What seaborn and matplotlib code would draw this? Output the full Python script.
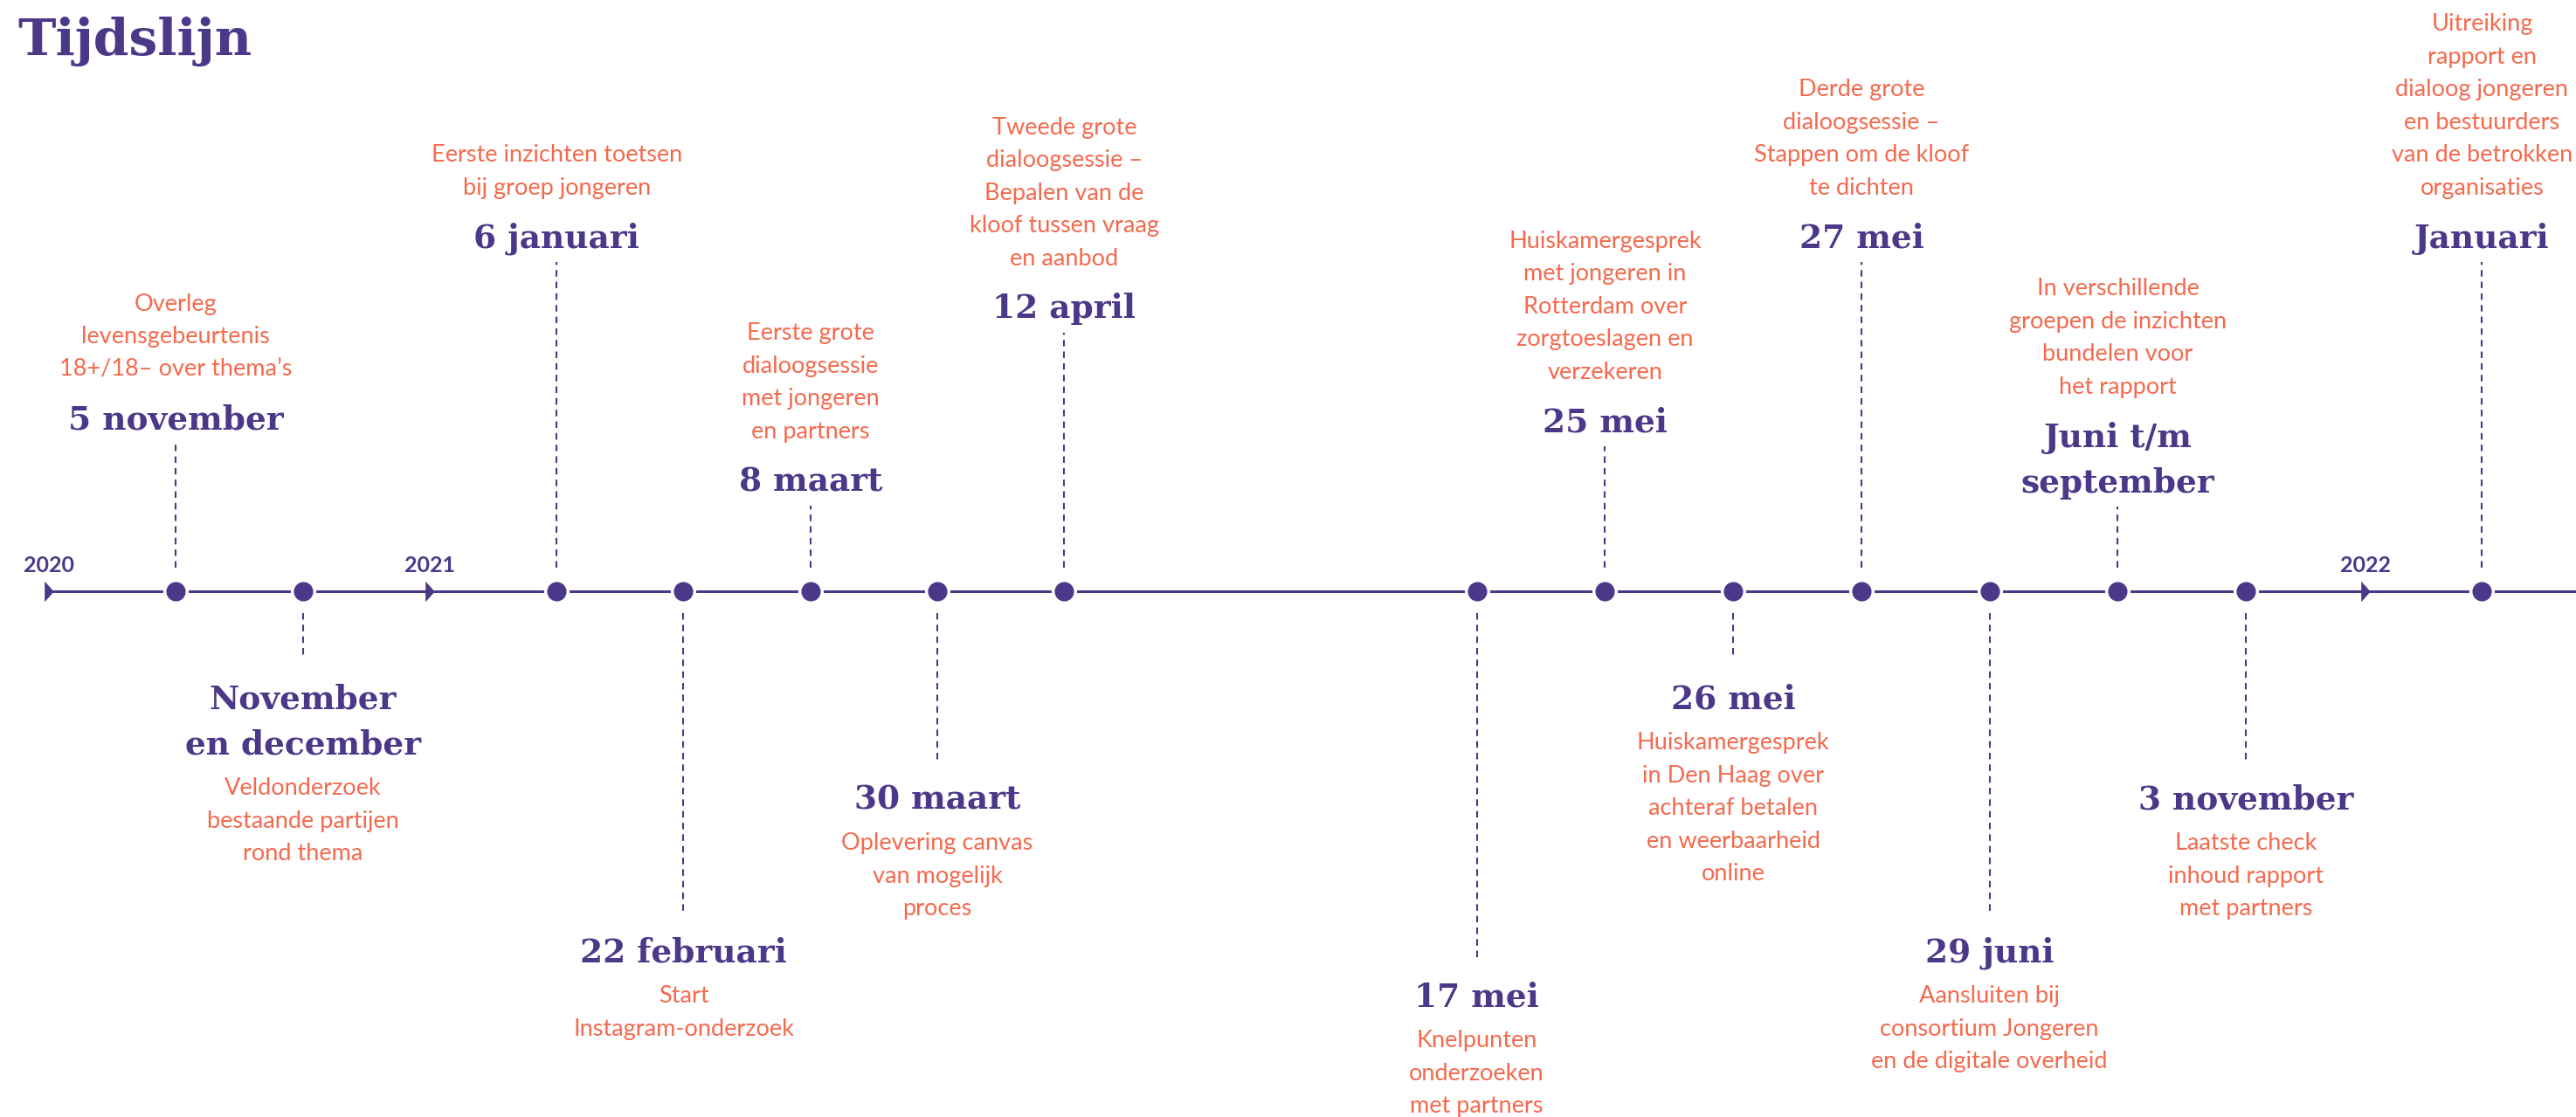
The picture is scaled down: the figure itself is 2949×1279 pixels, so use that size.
import numpy as np
import pandas as pd
import matplotlib.pyplot as plt
import seaborn as sns

# Gegevens van de tijdlijn
datums = ["5 november", "November\nen december", "6 januari", "22 februari",
          "8 maart", "30 maart", "12 april", "17 mei", "25 mei", "26 mei",
          "27 mei", "29 juni", "Juni t/m\nseptember", "3 november", "Januari"]
omschrijvingen = [
    "Overleg\nlevensgebeurtenis\n18+/18– over thema’s",
    "Veldonderzoek\nbestaande partijen\nrond thema",
    "Eerste inzichten toetsen\nbij groep jongeren",
    "Start\nInstagram-onderzoek",
    "Eerste grote\ndialoogsessie\nmet jongeren\nen partners",
    "Oplevering canvas\nvan mogelijk\nproces",
    "Tweede grote\ndialoogsessie –\nBepalen van de\nkloof tussen vraag\nen aanbod",
    "Knelpunten\nonderzoeken\nmet partners",
    "Huiskamergesprek\nmet jongeren in\nRotterdam over\nzorgtoeslagen en\nverzekeren",
    "Huiskamergesprek\nin Den Haag over\nachteraf betalen\nen weerbaarheid\nonline",
    "Derde grote\ndialoogsessie –\nStappen om de kloof\nte dichten",
    "Aansluiten bij\nconsortium Jongeren\nen de digitale overheid",
    "In verschillende\ngroepen de inzichten\nbundelen voor\nhet rapport",
    "Laatste check\ninhoud rapport\nmet partners",
    "Uitreiking\nrapport en\ndialoog jongeren\nen bestuurders\nvan de betrokken\norganisaties",
]
# plaats op de tijdlijn (volgorde, met een sprong tussen april en mei)
tijdpositie = [1, 2, 4, 5, 6, 7, 8, 11.25, 12.26, 13.27, 14.28, 15.29, 16.3, 17.31, 19.17]
kant = ["boven", "onder", "boven", "onder", "boven", "onder", "boven", "onder",
        "boven", "onder", "boven", "onder", "boven", "onder", "boven"]

jaren = ["2020", "2021", "2022"]
jaarpositie = [0, 3, 18.25]

# opmaak: hoogte van het datumlabel t.o.v. de lijn (pixels)
label_hoogte = [200, -120, 408, -410, 129, -235, 327, -461, 197, -120, 408, -410, 128, -235, 408]

PAARS = "#4C3889"
KORAAL = "#F46A4E"
DATUM_LH = 52
TEKST_LH = 37.6

df = pd.DataFrame({"datum": datums, "tekst": omschrijvingen, "positie": tijdpositie,
                   "kant": kant, "hoogte": label_hoogte})
df["lijn"] = 0
df_jaar = pd.DataFrame({"jaar": jaren, "positie": jaarpositie, "lijn": 0})

sns.set_style("white")

fig = plt.figure(figsize=(29.49, 12.79), dpi=100)
ax = fig.add_axes([0, 0, 1, 1])
xmax = 19.91
ax.set_xlim(-0.385, xmax)
ax.set_ylim(-602, 677)
ax.axis("off")

# hoofdlijn
sns.lineplot(x=[0, xmax + 1], y=[0, 0], color=PAARS, linewidth=2.2, ax=ax, zorder=1)

# jaartallen met pijltjes
pijl = [(-0.45, -1), (0.45, 0), (-0.45, 1)]
ax.plot(df_jaar["positie"], df_jaar["lijn"], linestyle="none", marker=pijl,
        markersize=17, color=PAARS, markeredgewidth=0, zorder=3)
for _, r in df_jaar.iterrows():
    ax.text(r["positie"], 22, r["jaar"], ha="center", va="baseline",
            fontsize=18, fontweight="bold", family="Lato", color=PAARS)

# stippellijnen
for _, r in df.iterrows():
    if r["kant"] == "boven":
        ax.plot([r["positie"], r["positie"]], [27, r["hoogte"] - 31], color=PAARS,
                linewidth=1.5, linestyle=(0, (3.6, 2.8)), zorder=1)
    else:
        ax.plot([r["positie"], r["positie"]], [-25, r["hoogte"] + 42], color=PAARS,
                linewidth=1.5, linestyle=(0, (3.6, 2.8)), zorder=1)

# punten
sns.scatterplot(data=df, x="positie", y="lijn", s=340, color=PAARS,
                edgecolor="white", linewidth=2.5, ax=ax, zorder=4)

# labels
for _, r in df.iterrows():
    d_regels = r["datum"].split("\n")
    t_regels = r["tekst"].split("\n")
    if r["kant"] == "boven":
        for k, regel in enumerate(reversed(d_regels)):
            ax.text(r["positie"], r["hoogte"] + k * DATUM_LH, regel, ha="center",
                    va="center_baseline", fontsize=27, fontweight="bold",
                    family="DejaVu Serif", color=PAARS)
        top = r["hoogte"] + (len(d_regels) - 1) * DATUM_LH + 56
        for k, regel in enumerate(reversed(t_regels)):
            ax.text(r["positie"], top + k * TEKST_LH, regel, ha="center",
                    va="center_baseline", fontsize=19.5, family="Lato", color=KORAAL)
    else:
        for k, regel in enumerate(d_regels):
            ax.text(r["positie"], r["hoogte"] - k * DATUM_LH, regel, ha="center",
                    va="center_baseline", fontsize=27, fontweight="bold",
                    family="DejaVu Serif", color=PAARS)
        onder = r["hoogte"] - (len(d_regels) - 1) * DATUM_LH - 51
        for k, regel in enumerate(t_regels):
            ax.text(r["positie"], onder - k * TEKST_LH, regel, ha="center",
                    va="center_baseline", fontsize=19.5, family="Lato", color=KORAAL)

# titel
fig.text(20 / 2949, 1 - 63 / 1279, "Tijdslijn", ha="left", va="baseline",
         fontsize=42, fontweight="bold", family="DejaVu Serif", color=PAARS)

fig.savefig("out.png", dpi=100, facecolor="white")
